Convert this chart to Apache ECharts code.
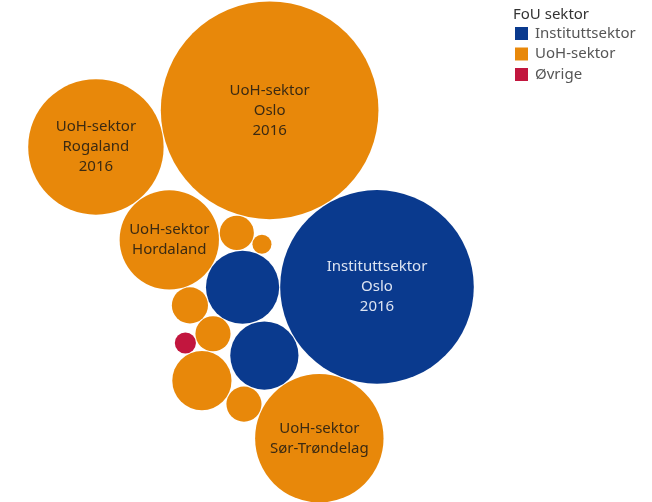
<!DOCTYPE html>
<html>
<head>
<meta charset="utf-8">
<script src="https://cdn.jsdelivr.net/npm/echarts@6/dist/echarts.min.js"></script>
<style>
html,body{margin:0;padding:0;background:#fff;}
#chart{width:652px;height:502px;}
</style>
</head>
<body>
<div id="chart"></div>
<script>
// ---- data ----
const categories = [
  'UoH-sektor Oslo', 'Instituttsektor Oslo', 'UoH-sektor Rogaland', 'UoH-sektor Sør-Trøndelag',
  'UoH-sektor Hordaland', 'Instituttsektor Sør-Trøndelag', 'Instituttsektor Hordaland', 'UoH-sektor Troms',
  'UoH-sektor Akershus', 'UoH-sektor Agder', 'UoH-sektor Nordland', 'UoH-sektor Buskerud',
  'Øvrige Oslo', 'UoH-sektor Hedmark'
];
const sectors = [
  'UoH-sektor', 'Instituttsektor', 'UoH-sektor', 'UoH-sektor',
  'UoH-sektor', 'Instituttsektor', 'Instituttsektor', 'UoH-sektor',
  'UoH-sektor', 'UoH-sektor', 'UoH-sektor', 'UoH-sektor',
  'Øvrige', 'UoH-sektor'
];
const values = [9500, 7527, 3699, 3328, 2000, 1095, 952, 720, 274, 259, 259, 245, 97, 80];
const labels = [
  'UoH-sektor\nOslo\n2016', 'Instituttsektor\nOslo\n2016', 'UoH-sektor\nRogaland\n2016', 'UoH-sektor\nSør-Trøndelag',
  'UoH-sektor\nHordaland', '', '', '', '', '', '', '', '', ''
];
const legendItems = ['Instituttsektor', 'UoH-sektor', 'Øvrige'];
const legendTitle = 'FoU sektor';

// ---- packing recipe (which bubbles touch which) ----
const packing = [
  {id: 0},
  {id: 1, from: 0, angle: 58.7},
  {id: 2, from: 0, angle: 168.1},
  {id: 11, from: 0, angle: 105},
  {id: 5, touch: [1, 11]},
  {id: 4, touch: [2, 5]},
  {id: 13, touch: [11, 5]},
  {id: 6, touch: [5, 1]},
  {id: 3, touch: [1, 6]},
  {id: 8, touch: [4, 5]},
  {id: 9, touch: [8, 5]},
  {id: 10, touch: [6, 3]},
  {id: 7, touch: [10, 9]},
  {id: 12, touch: [9, 7]}
];

const colors = {'Instituttsektor': '#0a3a8e', 'UoH-sektor': '#e8880a', 'Øvrige': '#c2163e'};
const labelColors = {'Instituttsektor': '#dde4f2', 'UoH-sektor': '#3b2a12', 'Øvrige': '#fff'};
const FONT = '"Noto Sans", sans-serif';

// ---- layout ----
const circ = values.map(v => ({r: Math.sqrt(v), x: null, y: null}));
const placed = [];
function overlap(c, skip) {
  let s = 0;
  for (const p of placed) {
    if (skip.includes(p)) continue;
    const d = Math.hypot(p.x - c.x, p.y - c.y);
    s += Math.max(0, p.r + c.r - d - 0.01);
  }
  return s;
}
for (const step of packing) {
  const c = circ[step.id];
  if (step.from === undefined && !step.touch) { c.x = 0; c.y = 0; }
  else if (step.from !== undefined) {
    const p = circ[step.from];
    const a = step.angle * Math.PI / 180;
    c.x = p.x + (p.r + c.r) * Math.cos(a);
    c.y = p.y + (p.r + c.r) * Math.sin(a);
  } else {
    const A = circ[step.touch[0]], B = circ[step.touch[1]];
    const d = Math.hypot(B.x - A.x, B.y - A.y);
    const ra = A.r + c.r, rb = B.r + c.r;
    const t = (ra * ra - rb * rb + d * d) / (2 * d);
    const h = Math.sqrt(Math.max(0, ra * ra - t * t));
    const ux = (B.x - A.x) / d, uy = (B.y - A.y) / d;
    const bx = A.x + ux * t, by = A.y + uy * t;
    const c1 = {x: bx - uy * h, y: by + ux * h, r: c.r};
    const c2 = {x: bx + uy * h, y: by - ux * h, r: c.r};
    const best = overlap(c1, [A, B]) <= overlap(c2, [A, B]) ? c1 : c2;
    c.x = best.x; c.y = best.y;
  }
  placed.push(c);
}
// fit into plot pane
const pane = {x0: 0, x1: 502, y0: 1, y1: 503};
let minX = Infinity, maxX = -Infinity, minY = Infinity, maxY = -Infinity;
circ.forEach(c => {
  minX = Math.min(minX, c.x - c.r); maxX = Math.max(maxX, c.x + c.r);
  minY = Math.min(minY, c.y - c.r); maxY = Math.max(maxY, c.y + c.r);
});
const s = Math.min((pane.x1 - pane.x0) / (maxX - minX), (pane.y1 - pane.y0) / (maxY - minY));
const offX = (pane.x0 + pane.x1) / 2 - s * (minX + maxX) / 2;
const offY = (pane.y0 + pane.y1) / 2 - s * (minY + maxY) / 2;

const series = legendItems.map(sec => ({
  name: sec,
  type: 'scatter',
  symbol: 'circle',
  itemStyle: {color: colors[sec], opacity: 1},
  emphasis: {disabled: true},
  label: {
    show: true, position: 'inside', fontFamily: FONT, fontSize: 15,
    lineHeight: 20, color: labelColors[sec],
    formatter: p => p.data.lbl
  },
  data: categories.map((name, i) => ({i, name})).filter(o => sectors[o.i] === sec).map(o => {
    const c = circ[o.i];
    return {
      name: o.name,
      value: [offX + s * c.x, offY + s * c.y],
      symbolSize: 2 * s * c.r - 1,
      lbl: labels[o.i],
      label: {show: labels[o.i] !== ''}
    };
  })
}));

const chart = echarts.init(document.getElementById('chart'), null, {renderer: 'canvas'});
chart.setOption({
  animation: false,
  backgroundColor: '#fff',
  title: {
    text: legendTitle, left: 508, top: 2,
    textStyle: {fontFamily: FONT, fontSize: 15, fontWeight: 'normal', color: '#333'}
  },
  legend: {
    data: legendItems, orient: 'vertical', left: 510, top: 21,
    icon: 'rect', itemWidth: 13, itemHeight: 13, itemGap: 5.5,
    selectedMode: false,
    textStyle: {fontFamily: FONT, fontSize: 15, color: '#555', padding: [0, 0, 0, 2]}
  },
  grid: {left: 0, right: 0, top: 0, bottom: 0},
  xAxis: {type: 'value', min: 0, max: 652, show: false},
  yAxis: {type: 'value', min: 0, max: 502, inverse: true, show: false},
  series
});
</script>
</body>
</html>
